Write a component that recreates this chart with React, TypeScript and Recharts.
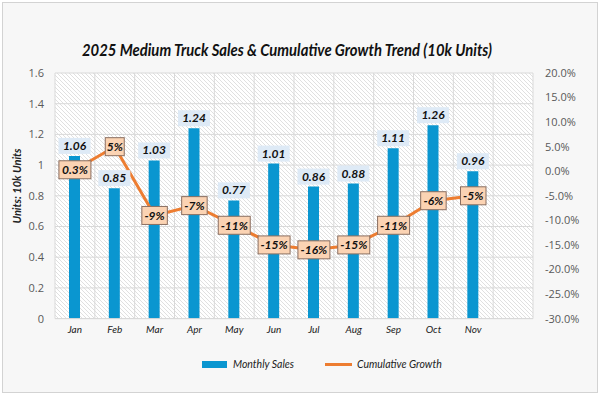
import React from "react";
import { Bar, CartesianGrid, ComposedChart, LabelList, Legend, Line, XAxis, YAxis } from "recharts";

const months = ["Jan", "Feb", "Mar", "Apr", "May", "Jun", "Jul", "Aug", "Sep", "Oct", "Nov", ""];
const sales = [1.06, 0.85, 1.03, 1.24, 0.77, 1.01, 0.86, 0.88, 1.11, 1.26, 0.96, null];
const growth = [0.3, 5, -9, -7, -11, -15, -16, -15, -11, -6, -5, null];
const growthLabels = ["0.3%", "5%", "-9%", "-7%", "-11%", "-15%", "-16%", "-15%", "-11%", "-6%", "-5%", ""];
const salesTicks = [0, 0.2, 0.4, 0.6, 0.8, 1, 1.2, 1.4, 1.6];
const growthTicks = [-30, -25, -20, -15, -10, -5, 0, 5, 10, 15, 20];

const data = months.map((month, i) => ({ month, sales: sales[i], growth: growth[i], growthLabel: growthLabels[i] }));

const FONT = "Lato, 'Open Sans', sans-serif";

function SalesLabel(props: any) {
  const { x, y, width, value } = props;
  if (value == null) return null;
  const cx = x + width / 2;
  const cy = y - 10;
  return (
    <g>
      <rect x={cx - 16} y={cy - 8} width={32} height={16} fill="#deeaf6" />
      <text x={cx} y={cy + 4} textAnchor="middle" fontSize={12} fontWeight="bold" fontStyle="italic" fontFamily={FONT} fill="#111">{value}</text>
    </g>
  );
}

function GrowthLabel(props: any) {
  const { x, y, value } = props;
  if (!value) return null;
  const w = String(value).length * 6.5 + 6;
  return (
    <g>
      <rect x={x - w / 2} y={y - 9} width={w} height={18} fill="#fbd3b3" stroke="#8a6e60" strokeWidth={1} />
      <text x={x} y={y + 4.5} textAnchor="middle" fontSize={12} fontWeight="bold" fontStyle="italic" fontFamily={FONT} fill="#111">{value}</text>
    </g>
  );
}

function LegendContent() {
  return (
    <div style={{ display: "flex", alignItems: "center", fontFamily: FONT, fontStyle: "italic", fontSize: 10.5, color: "#222" }}>
      <span style={{ display: "inline-block", width: 25, height: 7, background: "#0a96d0" }} />
      <span style={{ marginLeft: 6 }}>Monthly Sales</span>
      <span style={{ display: "inline-block", width: 27, height: 3, background: "#ed7d31", marginLeft: 31 }} />
      <span style={{ marginLeft: 5 }}>Cumulative Growth</span>
    </div>
  );
}

export default function App() {
  return (
    <div style={{ position: "absolute", left: 0, top: 0, width: 600, height: 396, background: "#ffffff" }}>
      <svg width={0} height={0} style={{ position: "absolute" }}>
        <defs>
          <pattern id="hatch" patternUnits="userSpaceOnUse" width={4} height={4}>
            <rect width={4} height={4} fill="#ffffff" />
            <path d="M-1,-1 L5,5 M-1,3 L1,5 M3,-1 L5,1" stroke="#e0e0e0" strokeWidth={1} />
          </pattern>
        </defs>
      </svg>
      <div style={{ position: "absolute", left: 2, top: 2, width: 594, height: 389, border: "1px solid #d3d3d3", background: "#f7f7f7" }} />
      <div style={{ position: "absolute", left: 0, top: 0 }}>
        <ComposedChart width={600} height={396} data={data} margin={{ top: 73, right: 0, bottom: 0, left: 0 }}>
          <text x={287} y={56} textAnchor="middle" fontSize={17} fontWeight="bold" fontStyle="italic" fontFamily={FONT} fill="#111" textLength={410} lengthAdjust="spacingAndGlyphs">
            2025 Medium Truck Sales &amp; Cumulative Growth Trend (10k Units)
          </text>
          <text x={21} y={186} transform="rotate(-90 21 186)" textAnchor="middle" fontSize={11} fontWeight="bold" fontStyle="italic" fontFamily={FONT} fill="#222">
            Units: 10k Units
          </text>
          <CartesianGrid
            fill="url(#hatch)"
            stroke="#d9d9d9"
            yAxisId="left"
            verticalCoordinatesGenerator={({ offset }: any) => Array.from({ length: months.length + 1 }, (_, i) => offset.left + (i * offset.width) / months.length)}
          />
          <XAxis dataKey="month" height={77.4} tickSize={0} tickMargin={7} axisLine={{ stroke: "#d9d9d9" }} tick={{ fontSize: 10, fontStyle: "italic", fill: "#222", fontFamily: FONT }} interval={0} />
          <YAxis yAxisId="left" width={55} domain={[0, 1.6]} ticks={salesTicks} tickSize={0} tickMargin={11} axisLine={false} tick={{ fontSize: 11, fill: "#595959", fontFamily: "'Open Sans', sans-serif" }} />
          <YAxis yAxisId="right" orientation="right" width={67} domain={[-30, 20]} ticks={growthTicks} tickSize={0} tickMargin={12} axisLine={false} tickFormatter={(v: number) => v.toFixed(1) + "%"} tick={{ fontSize: 11, fill: "#595959", fontFamily: "'Open Sans', sans-serif", textAnchor: "start" }} />
          <Legend verticalAlign="middle" align="center" wrapperStyle={{ top: 358, left: 202, width: 300 }} content={LegendContent} />
          <Bar yAxisId="left" dataKey="sales" name="Monthly Sales" fill="#0a96d0" barSize={11} isAnimationActive={false}>
            <LabelList dataKey="sales" content={SalesLabel} />
          </Bar>
          <Line yAxisId="right" dataKey="growth" name="Cumulative Growth" stroke="#ed7d31" strokeWidth={3} dot={false} activeDot={false} isAnimationActive={false}>
            <LabelList dataKey="growthLabel" content={GrowthLabel} />
          </Line>
        </ComposedChart>
      </div>
    </div>
  );
}
